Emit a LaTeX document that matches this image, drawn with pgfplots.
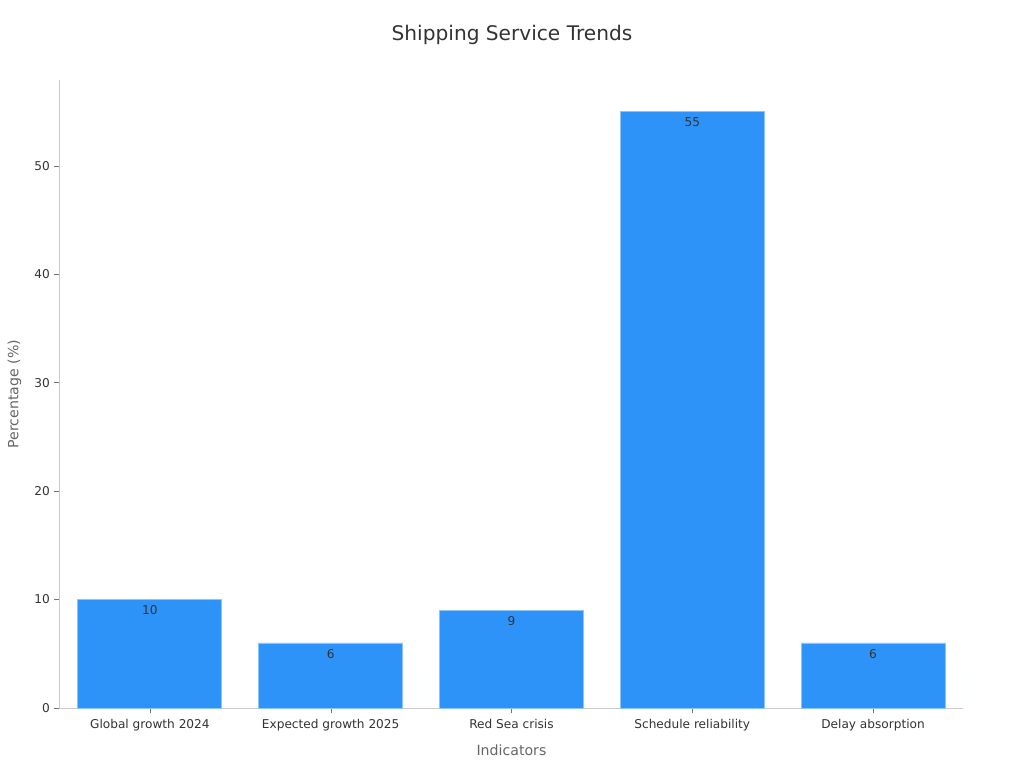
\documentclass[border=0pt]{standalone}
\usepackage{pgfplots}
\pgfplotsset{compat=1.18}
\usepackage{fontspec}
\setmainfont{DejaVu Sans}
\definecolor{barblue}{HTML}{2E93F8}
\definecolor{baredge}{HTML}{8CC4FB}
\definecolor{txtdark}{HTML}{333333}
\definecolor{txtgray}{HTML}{666666}
\definecolor{axgray}{HTML}{CCCCCC}
\begin{document}
\begin{tikzpicture}
\path[use as bounding box] (0,0) rectangle (768pt,576pt);
\begin{axis}[
    at={(44.6pt,45pt)}, anchor=south west,
    scale only axis,
    width=678pt, height=471pt,
    xmin=-0.5, xmax=4.5,
    ymin=0, ymax=57.9,
    axis x line*=bottom, axis y line*=left,
    axis line style={axgray, -},
    xtick=data,
    xticklabels={Global growth 2024, Expected growth 2025, Red Sea crisis, Schedule reliability, Delay absorption},
    ytick={0,10,20,30,40,50},
    tick align=outside,
    major tick length=3.75pt,
    tick style={black!55},
    ticklabel style={font=\fontsize{9.1}{11}\selectfont, text=txtdark},
    x tick label style={yshift=-1.5pt},
    /pgf/number format/assume math mode=true,
    xlabel={Indicators},
    ylabel={Percentage (\%)},
    label style={font=\fontsize{10.6}{12}\selectfont, text=txtgray},
    xlabel style={at={(axis description cs:0.5,0)}, anchor=north, yshift=-24pt},
    ylabel style={at={(axis description cs:0,0.5)}, anchor=south, yshift=25pt},
    ybar, bar width=108pt,
    nodes near coords,
    every node near coord/.append style={anchor=north, yshift=-1pt, font=\fontsize{9.1}{11}\selectfont, text=txtdark},
]
\addplot[fill=barblue, draw=baredge, line width=0.6pt] coordinates {
    (0,10) (1,6) (2,9) (3,55) (4,6)
};
\end{axis}
\node[font=\fontsize{15.1}{18}\selectfont, text=txtdark] at (384pt,549.75pt) {Shipping Service Trends};
\end{tikzpicture}
\end{document}
